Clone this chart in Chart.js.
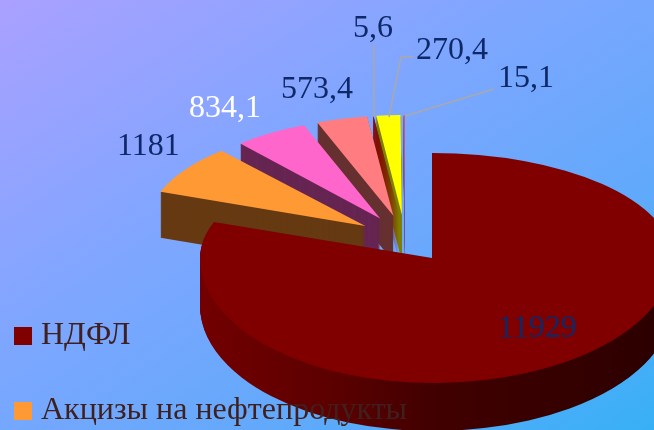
<!DOCTYPE html>
<html>
<head>
<meta charset="utf-8">
<style>
    html, body { margin: 0; padding: 0; width: 654px; height: 430px; overflow: hidden; }
    body { background: linear-gradient(to bottom right, #aaa0ff 0%, #7ea6ff 40%, #62a9fb 70%, #38b0f6 100%); }
    #wrap { position: relative; width: 654px; height: 430px; }
</style>
</head>
<body>
<div id="wrap"><canvas id="pieChart"></canvas></div>
<script src="https://cdn.jsdelivr.net/npm/chart.js@4"></script>
<script>
// Only the first two names can be read, the legend is cut off by the picture
const categories = ['НДФЛ', 'Акцизы на нефтепродукты', '', '', '', '', ''];
const values = [11929, 1181, 834.1, 573.4, 5.6, 270.4, 15.1];
const topColors = ['#800000', '#ff9933', '#ff66cc', '#ff7c80', '#800000', '#ffff00', '#c8608f'];
const sideColors = ['#5c0000', '#663a12', '#662552', '#663030', '#800000', '#7f7f00', '#6a5a90'];

const labelFont = '32px "Liberation Serif", serif';
const navy = '#0e2868';
// [x, baseline] of each value label
const labelPos = [[498, 337], [117, 155], [189, 117], [281, 98], [353, 37], [416, 59], [498, 87]];
const labelColors = [navy, navy, '#ffffff', navy, navy, navy, navy];
const leaders = [
    [[374, 45], [374, 117]],
    [[413, 57], [401, 57], [389, 117]],
    [[494, 89], [405, 116]]
];

// Draws one arc through the library, with the canvas squashed into the 3D look
function drawArc(ctx, arc, color, ax, ay, rx, ry) {
    ctx.save();
    ctx.translate(ax, ay);
    ctx.scale(rx / arc.outerRadius, ry / arc.outerRadius);
    ctx.translate(-arc.x, -arc.y);
    const saved = arc.options;
    arc.options = Object.assign(Object.create(saved), { backgroundColor: color });
    arc.draw(ctx);
    arc.options = saved;
    ctx.restore();
}

// The big slice is nearer to the viewer: each quarter gets its own radii
function drawMain(ctx, arc, color, dy) {
    const ax = 432, ay = 258 + dy;
    const quarters = [
        [0, 0, ax, ay, 232, 105],
        [ax, 0, 654 - ax, ay, 240, 105],
        [0, ay, ax, 430 - ay, 232, 125],
        [ax, ay, 654 - ax, 430 - ay, 240, 125]
    ];
    quarters.forEach(q => {
        ctx.save();
        ctx.beginPath();
        ctx.rect(q[0], q[1], q[2], q[3]);
        ctx.clip();
        drawArc(ctx, arc, color, ax, ay, q[4], q[5]);
        ctx.restore();
    });
}

const pie3d = {
    id: 'pie3d',
    beforeDatasetsDraw(chart) {
        const ctx = chart.ctx;
        const arcs = chart.getDatasetMeta(0).data;
        // Small slices from back to front
        for (let i = arcs.length - 1; i > 0; i--) {
            const arc = arcs[i];
            const mid = arc.startAngle + arc.circumference / 2;
            const ax = 405 + Math.cos(mid) * 48;
            const ay = 240 + Math.sin(mid) * 25;
            const rx = i === 1 ? 218 : 212;
            for (let d = 46; d > 0; d--) {
                drawArc(ctx, arc, sideColors[i], ax, ay + d, rx, 100);
            }
            drawArc(ctx, arc, topColors[i], ax, ay, rx, 100);
        }
        // Big slice: the side darkens from left to right
        const main = arcs[0];
        const kx = 232 / main.outerRadius;
        const side = ctx.createLinearGradient(main.x + (200 - 432) / kx, 0, main.x + (654 - 432) / kx, 0);
        side.addColorStop(0, '#720000');
        side.addColorStop(0.29, '#5c0000');
        side.addColorStop(0.51, '#420000');
        side.addColorStop(1, '#2c0000');
        for (let d = 48; d > 0; d--) {
            drawMain(ctx, main, side, d);
        }
        drawMain(ctx, main, topColors[0], 0);
        return false;
    },
    afterDraw(chart) {
        const ctx = chart.ctx;
        ctx.save();
        // Leader lines
        ctx.strokeStyle = '#a9a9a9';
        ctx.lineWidth = 1.5;
        leaders.forEach(points => {
            ctx.beginPath();
            points.forEach((p, i) => i ? ctx.lineTo(p[0], p[1]) : ctx.moveTo(p[0], p[1]));
            ctx.stroke();
        });
        // Value labels
        ctx.font = labelFont;
        ctx.textBaseline = 'alphabetic';
        values.forEach((v, i) => {
            ctx.fillStyle = labelColors[i];
            ctx.fillText(String(v).replace('.', ','), labelPos[i][0], labelPos[i][1]);
        });
        // Legend
        [336, 411].forEach((y, i) => {
            ctx.fillStyle = topColors[i];
            ctx.fillRect(14, y - 9, 18, 18);
            ctx.fillStyle = '#40201f';
            ctx.fillText(categories[i], 41, y + 8);
        });
        ctx.restore();
    }
};

const ctx = document.getElementById('pieChart').getContext('2d');
new Chart(ctx, {
    type: 'pie',
    data: {
        labels: categories,
        datasets: [{
            data: values,
            backgroundColor: topColors,
            borderWidth: 0
        }]
    },
    options: {
        responsive: true,
        maintainAspectRatio: false,
        animation: false,
        events: [],
        plugins: { legend: { display: false }, tooltip: { enabled: false } }
    },
    plugins: [pie3d]
});
</script>
</body>
</html>
